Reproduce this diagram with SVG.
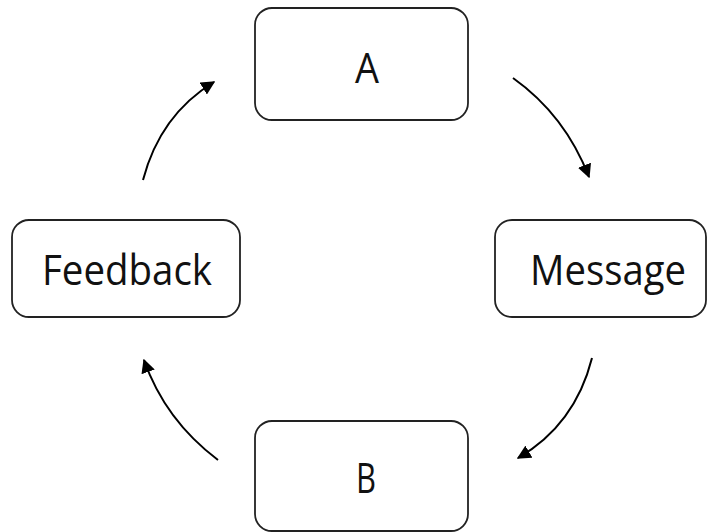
<svg xmlns="http://www.w3.org/2000/svg" width="709" height="532" viewBox="0 0 709 532">
<style>
.box{fill:#fff;stroke:#222;stroke-width:1.8}
.lbl{font-family:"Open Sans","Noto Sans",sans-serif;font-size:42px;fill:#111;text-anchor:middle}
.con{fill:none;stroke:#000;stroke-width:2}
</style>
<defs>
<marker id="ah" viewBox="0 0 10 10" refX="9" refY="5" markerWidth="7" markerHeight="7" markerUnits="strokeWidth" orient="auto">
<path d="M0,0 L10,5 L0,10 z" fill="#000"/>
</marker>
</defs>
<rect width="709" height="532" fill="#fff"/>
<g id="connectors">
<path class="con" d="M513,78 Q565,115 589,177" marker-end="url(#ah)"/>
<path class="con" d="M592,358 Q575,425 518,458" marker-end="url(#ah)"/>
<path class="con" d="M218,460 Q165,420 144,360" marker-end="url(#ah)"/>
<path class="con" d="M143,180 Q160,115 214,82" marker-end="url(#ah)"/>
</g>
<g id="nodeA"><rect class="box" x="255" y="8" width="213" height="112" rx="17"/><text class="lbl" x="367" y="83" textLength="24" lengthAdjust="spacingAndGlyphs">A</text></g>
<g id="nodeMessage"><rect class="box" x="495" y="220" width="211" height="97" rx="17"/><text class="lbl" x="608" y="285" textLength="156" lengthAdjust="spacingAndGlyphs">Message</text></g>
<g id="nodeB"><rect class="box" x="255" y="421" width="213" height="110" rx="17"/><text class="lbl" x="366" y="493" textLength="20" lengthAdjust="spacingAndGlyphs">B</text></g>
<g id="nodeFeedback"><rect class="box" x="12" y="220" width="228" height="97" rx="17"/><text class="lbl" x="127" y="285" textLength="170" lengthAdjust="spacingAndGlyphs">Feedback</text></g>
</svg>
